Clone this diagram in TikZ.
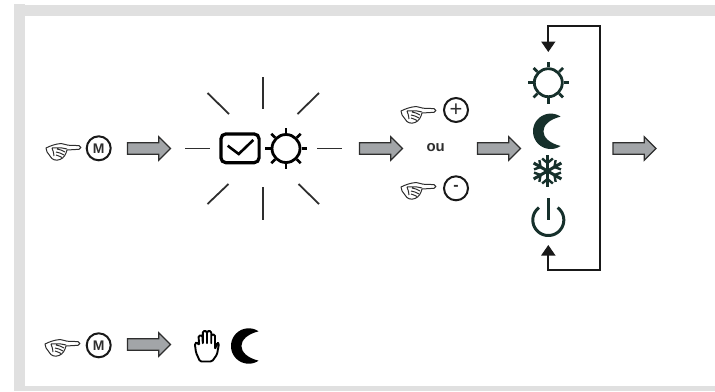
\documentclass[tikz,border=0pt]{standalone}
\usepackage{fontspec}
\setmainfont{Liberation Sans}
\usetikzlibrary{shapes.arrows,arrows.meta,calc}
\definecolor{framegray}{HTML}{E0E0E0}
\definecolor{arrowgray}{HTML}{A2A5A8}
\definecolor{inkdark}{HTML}{2E2E2E}
\definecolor{icondark}{HTML}{16302B}
\tikzset{
  x=1bp,y=-1bp,
  blockarrow/.style={single arrow,draw=inkdark,fill=arrowgray,line width=1.1bp,
    minimum height=43bp,single arrow head extend=6bp,anchor=west,
    single arrow head indent=0bp,inner xsep=0pt,inner ysep=5.2bp,outer sep=0pt},
  ray/.style={draw=inkdark,line width=1.8bp},
  keyround/.style={circle,draw=black!90,line width=2bp,minimum size=24bp,inner sep=0pt,
    text=inkdark},
  looptrack/.style={draw=black!90,line width=1.7bp,
    {Triangle[length=10.5bp,width=14bp]}-{Triangle[length=10.5bp,width=14bp]}},
  pics/pointhand/.style={code={
    \draw[line width=1bp,draw=inkdark,fill=white,line join=round]
      (0,4) .. controls (4,2) and (9,0) .. (15,-.5)
      .. controls (18,-.3) and (20,1) .. (22,1.2)
      -- (33,1.6) .. controls (35.5,2) and (35.5,5) .. (33,5.3)
      -- (21,6) .. controls (20,10) and (18,14) .. (14,15.5)
      .. controls (10,17) and (6,16) .. (4,12)
      .. controls (2,9) and (-.5,7) .. (0,4) -- cycle;
    \draw[line width=1bp,draw=inkdark]
      (6,4) .. controls (9,4) and (14,3) .. (21,5)
      (11,5) .. controls (14,5) and (17,7) .. (19,8)
      (10,8) .. controls (13,8) and (16,10) .. (18,11)
      (10,11) .. controls (12,11) and (14,13) .. (16,13.5)
      (6,4) .. controls (7,7) and (8,9) .. (8,12);
  }},
  pics/sunicon/.style={code={
    \draw[line width=2.8bp,draw=#1] (0,0) circle[radius=14bp];
    \foreach \a in {0,45,...,315}
      \draw[line width=2.8bp,draw=#1] (\a:15.5) -- (\a:20.8);
  }},
  pics/moonicon/.style={code={
    \fill[#1] plot[domain=56:304,samples=40,smooth] ({17.7*cos(\x)},{-17.7*sin(\x)})
      .. controls (-13,9) and (-13,-9) .. (9.9,-14.7) -- cycle;
  }},
  pics/flakeicon/.style={code={
    \foreach \a in {30,90,...,330}{
      \draw[line width=3bp,draw=icondark] (0,0) -- (\a:16);
      \draw[line width=2.4bp,draw=icondark] ($(\a:8)+(\a+50:7)$) -- (\a:8) -- ($(\a:8)+(\a-50:7)$);
    }
  }},
  pics/powericon/.style={code={
    \draw[line width=3bp,draw=icondark]
      plot[domain=37:323,samples=40,smooth] ({15.5*sin(\x)},{-15.5*cos(\x)});
    \draw[line width=3bp,draw=icondark] (0,-22) -- (0,0);
  }},
  pics/stophand/.style={code={
    \draw[line width=1.9bp,draw=black,fill=white,line join=round,rounded corners=1.4bp]
      (6,32) -- (2,23) -- (.8,14) -- (3,12.5) -- (5.2,16)
      -- (4.5,6) -- (8.5,6) -- (8.8,15)
      -- (8.8,1.5) -- (13,1.5) -- (13,15)
      -- (13,1.5) -- (17.2,1.5) -- (17.2,15)
      -- (17.2,5) -- (21,5) -- (21,20)
      -- (23.2,13) -- (25,14) -- (23,25) -- (18,32) -- cycle;
  }},
}
\begin{document}
\begin{tikzpicture}
\useasboundingbox (0,0) rectangle (715,391);
% frame
\fill[framegray] (14,4) rectangle (25,391);
\fill[framegray] (14,5) rectangle (715,16);
\fill[framegray] (14,386) rectangle (715,391);

% first row
\pic (handM) at (46,144) {pointhand};
\node[keyround] (keyM) at (98.7,148.3) {\fontsize{14}{14}\selectfont\bfseries M};
\node[blockarrow] (arrowA) at (127.5,148.5) {};

% flashing display
\draw[ray] (263,77) -- (263,109);
\draw[ray] (263,187) -- (263,220);
\draw[ray] (185,148.5) -- (210,148.5);
\draw[ray] (317,148.5) -- (342,148.5);
\draw[ray] (207.5,93) -- (229,114);
\draw[ray] (319,93) -- (297.5,114);
\draw[ray] (207.5,204) -- (228.5,184);
\draw[ray] (319,204) -- (298.5,184);
\node[draw=black,line width=3.2bp,rounded corners=5bp,minimum width=38.2bp,minimum height=28.8bp,inner sep=0pt] (screenbox) at (240,148.3) {};
\draw[line width=2.6bp,draw=black,line join=miter] (227.7,145.7) -- (238.7,154) -- (253.3,140);
\pic (sunA) at (286,148.5) {sunicon=black};

\node[blockarrow] (arrowB) at (359.5,148.5) {};

% plus / minus
\pic (handP) at (401,107) {pointhand};
\node[keyround] (keyP) at (456,110) {\raisebox{.5bp}{\fontsize{22}{22}\selectfont +}};
\node[font=\bfseries\fontsize{15}{15}\selectfont,text=inkdark,inner sep=0pt] (ou) at (435.7,148) {ou};
\pic (handN) at (401,183) {pointhand};
\node[keyround] (keyN) at (456,188.3) {\fontsize{16}{16}\selectfont\bfseries -};

\node[blockarrow] (arrowC) at (477.5,148.5) {};

% mode column
\pic (sunB) at (548.3,82.7) {sunicon=icondark};
\pic (moonB) at (550.7,131.3) {moonicon=icondark};
\pic (flake) at (547.5,171) {flakeicon};
\pic (power) at (548.3,220) {powericon};

\coordinate (tipTop) at (548.3,52);
\coordinate (tipBottom) at (548.3,245);
\coordinate (cornerBR) at (600,270);
\coordinate (cornerTR) at (600,26);
\draw[looptrack] (tipBottom) |- (cornerBR) -- (cornerTR) -| (tipTop);

\node[blockarrow] (arrowD) at (613,148.5) {};

% second row
\pic (handM2) at (45,340) {pointhand};
\node[keyround] (keyM2) at (98.7,345.3) {\fontsize{14}{14}\selectfont\bfseries M};
\node[blockarrow] (arrowE) at (127.5,344.5) {};
\pic (stop) at (194,329.5) {stophand};
\pic (moonS) at (248.7,346) {moonicon=black};
\end{tikzpicture}
\end{document}
